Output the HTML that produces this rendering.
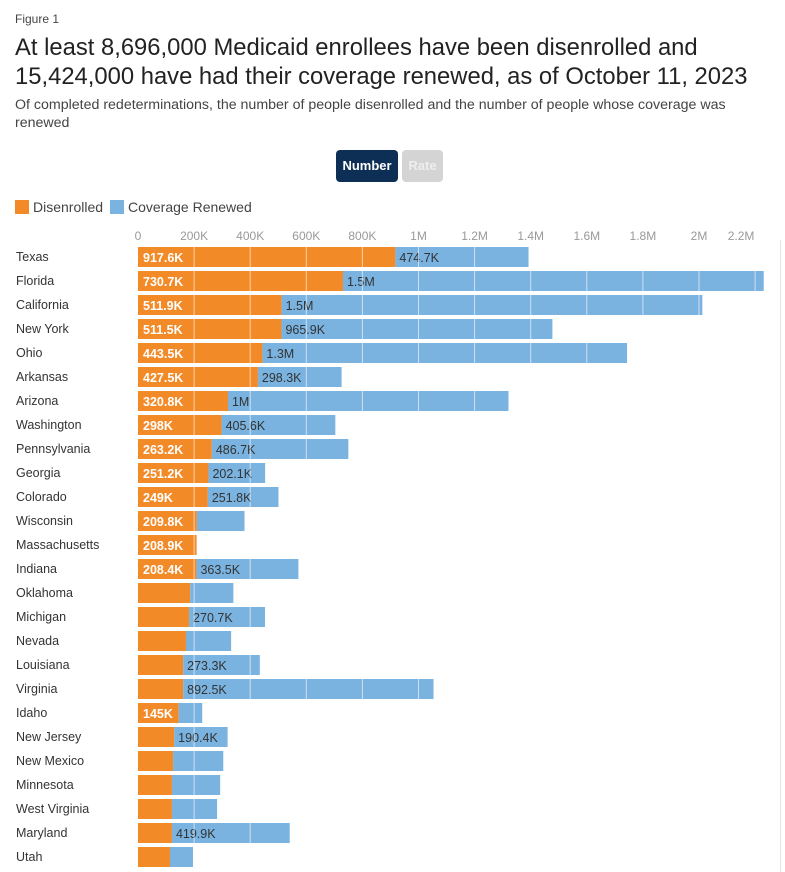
<!DOCTYPE html>
<html><head><meta charset="utf-8"><style>
body{margin:0;width:785px;height:872px;background:#fff;font-family:"Liberation Sans",Arial,sans-serif;overflow:hidden;position:relative}
.abs{position:absolute}
</style></head><body>
<div class="abs" style="left:15px;top:12px;font-size:12px;color:#444">Figure 1</div>
<div class="abs" style="left:15px;top:33px;font-size:23.8px;line-height:29px;color:#222;width:765px">At least 8,696,000 Medicaid enrollees have been disenrolled and 15,424,000 have had their coverage renewed, as of October 11, 2023</div>
<div class="abs" style="left:15px;top:96px;font-size:14.2px;line-height:18px;color:#444;width:735px">Of completed redeterminations, the number of people disenrolled and the number of people whose coverage was renewed</div>
<div class="abs" style="left:336px;top:150px;width:62px;height:32px;background:#0d2e55;border-radius:4px;color:#fff;font-size:13px;font-weight:bold;line-height:32px;text-align:center">Number</div>
<div class="abs" style="left:402px;top:150px;width:41px;height:32px;background:#d4d4d4;border-radius:4px;color:#eee;font-size:13px;font-weight:bold;line-height:32px;text-align:center">Rate</div>
<div class="abs" style="left:15px;top:199px;font-size:14px;color:#444"><span style="display:inline-block;width:14px;height:14px;background:#f28a28;vertical-align:-2px;margin-right:4px"></span>Disenrolled</div>
<div class="abs" style="left:110px;top:199px;font-size:14px;color:#444"><span style="display:inline-block;width:14px;height:14px;background:#7ab3e0;vertical-align:-2px;margin-right:4px"></span>Coverage Renewed</div>
<div class="abs" style="left:780px;top:240px;width:1px;height:632px;background:#e4e4e4"></div>
<svg class="abs" style="left:0;top:0" width="785" height="872" id="chart"></svg>
<script>
const states=["Texas","Florida","California","New York","Ohio","Arkansas","Arizona","Washington","Pennsylvania","Georgia","Colorado","Wisconsin","Massachusetts","Indiana","Oklahoma","Michigan","Nevada","Louisiana","Virginia","Idaho","New Jersey","New Mexico","Minnesota","West Virginia","Maryland","Utah"];
const disenrolled=[917.6,730.7,511.9,511.5,443.5,427.5,320.8,298,263.2,251.2,249,209.8,208.9,208.4,186,182,171,161,161,145,129,125,121,121,121,114];
const renewed=[474.7,1500,1500,965.9,1300,298.3,1000,405.6,486.7,202.1,251.8,170,0,363.5,154,270.7,161,273.3,892.5,84,190.4,179,172,161,419.9,82];
const disLabels=["917.6K","730.7K","511.9K","511.5K","443.5K","427.5K","320.8K","298K","263.2K","251.2K","249K","209.8K","208.9K","208.4K","","","","","","145K","","","","","",""];
const renLabels=["474.7K","1.5M","1.5M","965.9K","1.3M","298.3K","1M","405.6K","486.7K","202.1K","251.8K","","","363.5K","","270.7K","","273.3K","892.5K","","190.4K","","","","419.9K",""];
const tickVals=[0,200,400,600,800,1000,1200,1400,1600,1800,2000,2150];
const tickLabels=["0","200K","400K","600K","800K","1M","1.2M","1.4M","1.6M","1.8M","2M","2.2M"];
const gridVals=[200,400,600,800,1000,1200,1400,1600,1800,2000,2200];
const svg=document.getElementById('chart');const NS="http://www.w3.org/2000/svg";
const x=v=>138+v*0.2805;const y=i=>247+i*24;const bh=20;
function mk(t,a){const e=document.createElementNS(NS,t);for(const k in a)e.setAttribute(k,a[k]);svg.appendChild(e);return e;}
tickVals.forEach((v,i)=>{const t=mk('text',{x:x(v),y:240,'text-anchor':'middle','font-size':12,fill:'#999'});t.textContent=tickLabels[i];

});
states.forEach((s,i)=>{
const l=mk('text',{x:16,y:y(i)+14,'font-size':12.5,fill:'#333'});l.textContent=s;


const r1=mk('rect',{x:x(0),y:y(i),width:x(disenrolled[i])-x(0),height:bh,fill:'#f28a28'});


const r2=mk('rect',{x:x(disenrolled[i]),y:y(i),width:Math.max(0,Math.min(785,x(disenrolled[i]+renewed[i]))-x(disenrolled[i])),height:bh,fill:'#7ab3e0'});


if(disLabels[i]){const t=mk('text',{x:x(0)+5,y:y(i)+15,'font-size':12.5,'font-weight':'bold',fill:'#fff'});t.textContent=disLabels[i];

}
if(renLabels[i]){const t=mk('text',{x:x(disenrolled[i])+4,y:y(i)+15,'font-size':12.5,fill:'#333'});t.textContent=renLabels[i];

}
});
gridVals.forEach(v=>{const g=mk('line',{x1:x(v),x2:x(v),y1:245,y2:872,stroke:'#fff','stroke-width':1,'stroke-opacity':0.6});

});
</script>
</body></html>
